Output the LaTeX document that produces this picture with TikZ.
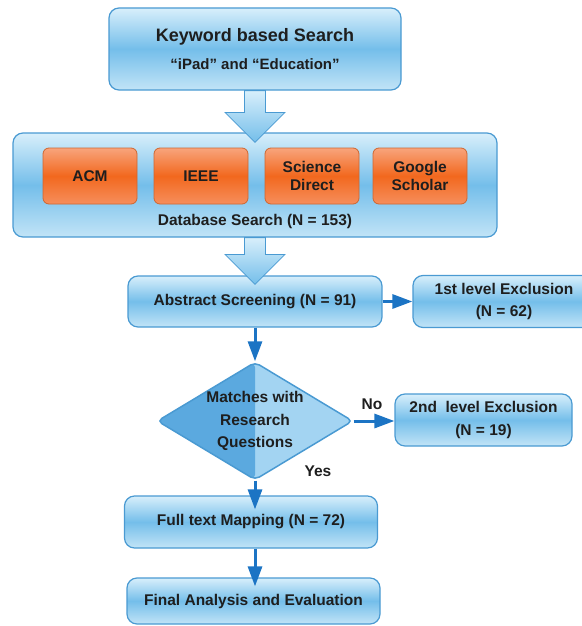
\documentclass[tikz,border=0pt]{standalone}
\usepackage{fontspec}
\setmainfont{Liberation Sans}
\usetikzlibrary{shapes.geometric,arrows.meta,calc,positioning}

\definecolor{boxtop}{HTML}{D8EFFB}
\definecolor{boxmid}{HTML}{74BEEA}
\definecolor{boxbot}{HTML}{C2E4F7}
\definecolor{boxline}{HTML}{4A9AD2}
\definecolor{orgtop}{HTML}{F8A47C}
\definecolor{orgmid}{HTML}{F2681E}
\definecolor{orgbot}{HTML}{F68E5C}
\definecolor{orgline}{HTML}{CF6630}
\definecolor{flowblue}{HTML}{1C74C4}
\definecolor{decdark}{HTML}{5BA9DF}
\definecolor{declight}{HTML}{A3D4F2}
\definecolor{txt}{HTML}{1E1E1E}

% block arrow going down from #1 to the tip #2
\newcommand{\fatarrow}[2]{%
  \shade[fatarrow] let \p1=(#1), \p2=(#2) in
    (\x1-10.5pt,\y1) -- (\x1+10.5pt,\y1) -- (\x1+10.5pt,\y2+30pt) -- (\x1+30pt,\y2+30pt)
    -- (\x1,\y2) -- (\x1-30pt,\y2+30pt) -- (\x1-10.5pt,\y2+30pt) -- cycle;}

\tikzset{
  stage/.style={rectangle,rounded corners=10pt,draw=boxline,line width=1.2pt,
    top color=boxtop,bottom color=boxbot,middle color=boxmid,text=txt,
    font=\bfseries\fontsize{15.5}{22.5}\selectfont,align=center,inner sep=0pt},
  source/.style={rectangle,rounded corners=6pt,draw=orgline,line width=0.8pt,
    top color=orgtop,bottom color=orgbot,middle color=orgmid,text=txt,
    font=\bfseries\fontsize{15.5}{18}\selectfont,align=center,
    minimum width=94pt,minimum height=56pt,inner sep=0pt},
  decision/.style={diamond,aspect=1.66,rounded corners=5pt,draw=boxline,line width=1.5pt,
    fill=declight,inner sep=0pt,text=txt,align=center,
    font=\bfseries\fontsize{15.5}{22.5}\selectfont,
    path picture={\fill[decdark] (path picture bounding box.north west) rectangle (path picture bounding box.south);}},
  fatarrow/.style={draw=boxline,line width=0.8pt,top color=boxtop,bottom color=boxmid},
  flow/.style={-{Triangle[length=20pt,width=14pt]},line width=3pt,flowblue},
  lbl/.style={text=txt,font=\bfseries\fontsize{15.5}{18}\selectfont}
}

\begin{document}
\begin{tikzpicture}[x=1pt,y=-1pt]
  \useasboundingbox (0,0) rectangle (581,626);
  % keyword search and databases
  \node[stage,minimum width=292pt,minimum height=82pt] (kw) at (255,49)
    {{\fontsize{18}{22}\selectfont Keyword based Search}\\[5pt]{\fontsize{15}{17}\selectfont “iPad” and “Education”}};
  \node[stage,minimum width=484pt,minimum height=104pt] (db) at (255,185) {};
  \foreach \name/\xpos/\txt in {acm/90/ACM, ieee/201/IEEE, sd/312/{Science\\Direct}, gs/420/{Google\\Scholar}}
    \node[source] (\name) at (\xpos,176) {\txt};
  \node[lbl] (dblabel) at (255,221) {Database Search (N = 153)};
  \fatarrow{kw.south}{$(db.north)+(0,10)$}

  % screening
  \node[stage,minimum width=254pt,minimum height=51pt] (abs) at (255,301.5) {Abstract Screening (N = 91)};
  \node[stage,minimum width=182pt,minimum height=52pt] (ex1) at (504,301.5) {1st level Exclusion\\(N = 62)};
  \fatarrow{db.south}{$(abs.north)+(0,9)$}
  \draw[flow] (abs) -- (ex1);

  % research questions check
  \node[decision] (dec) at (255,421) {Matches with\\Research\\Questions};
  \node[stage,minimum width=177pt,minimum height=52pt] (ex2) at (483.5,420) {2nd~ level Exclusion\\(N = 19)};
  \draw[flow] (abs.south) -- (dec.north);
  \draw[flow] (dec.east) -- node[lbl,above=7pt,pos=0.45] (no) {No} (dec.east -| ex2.west);
  \node[lbl] (yes) at (318,471) {Yes};

  % mapping and evaluation
  \node[stage,minimum width=253pt,minimum height=52pt] (full) at (251,522) {Full text Mapping (N = 72)};
  \node[stage,minimum width=253pt,minimum height=46pt] (final) at (253.5,601) {Final Analysis and Evaluation};
  \draw[flow,shorten >=-14pt] (dec.south) -- (dec.south |- full.north);
  \draw[flow,shorten >=-9pt] (dec.south |- full.south) -- (dec.south |- final.north);
\end{tikzpicture}
\end{document}
